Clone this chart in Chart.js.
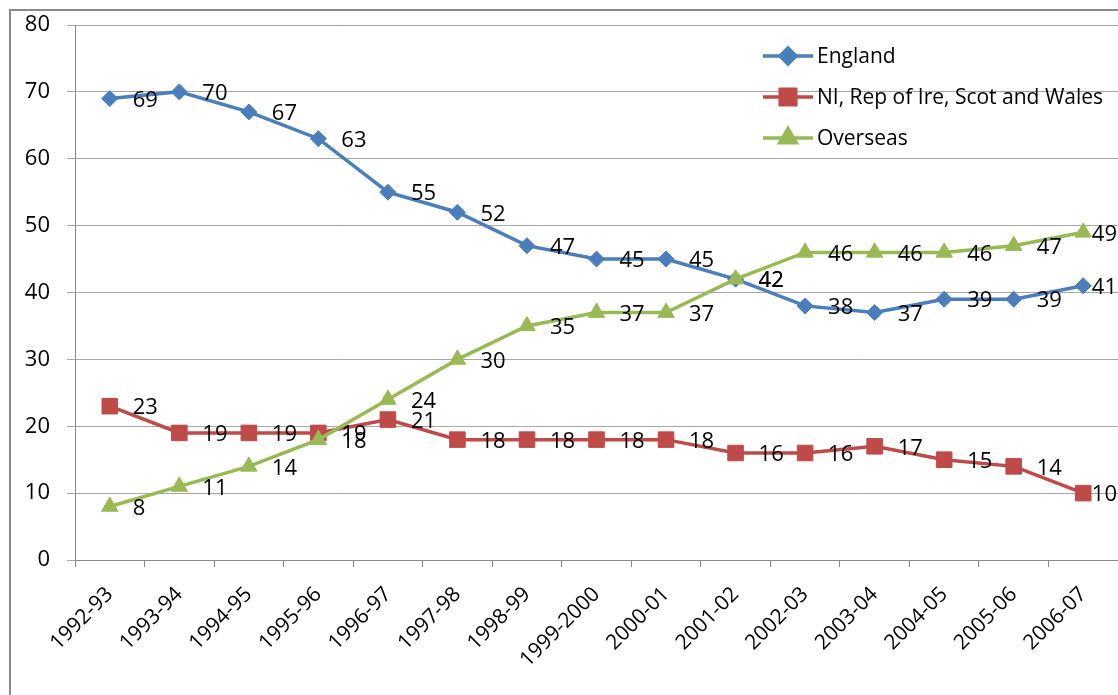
<!DOCTYPE html>
<html>
<head>
<meta charset="utf-8">
<script src="https://cdn.jsdelivr.net/npm/chart.js@4/dist/chart.umd.min.js"></script>
<style>
  html, body { margin: 0; padding: 0; background: #fff; overflow: hidden; }
  #wrap { position: relative; width: 1130px; height: 695px; }
  #frame { position: absolute; left: 9px; top: 9px; width: 1300px; height: 900px;
           border-left: 2px solid #8a8a8a; border-top: 2px solid #8a8a8a; pointer-events: none; }
</style>
</head>
<body>
<div id="wrap">
  <canvas id="c" width="1130" height="695"></canvas>
  <div id="frame"></div>
</div>
<script>
// Academic years
const categories = ['1992-93', '1993-94', '1994-95', '1995-96', '1996-97', '1997-98', '1998-99',
  '1999-2000', '2000-01', '2001-02', '2002-03', '2003-04', '2004-05', '2005-06', '2006-07'];

// Series values
const england  = [69, 70, 67, 63, 55, 52, 47, 45, 45, 42, 38, 37, 39, 39, 41];
const niIreScotWales = [23, 19, 19, 19, 21, 18, 18, 18, 18, 16, 16, 17, 15, 14, 10];
const overseas = [8, 11, 14, 18, 24, 30, 35, 37, 37, 42, 46, 46, 46, 47, 49];

// Value axis ticks
const yTicks = [0, 10, 20, 30, 40, 50, 60, 70, 80];

const FONT = 'Open Sans';

const seriesNames = ['England', 'NI, Rep of Ire, Scot and Wales', 'Overseas'];
const seriesColors = ['#4A7EBB', '#BE4B48', '#98B954'];

// Value labels to the right of every point
const valueLabels = {
  id: 'valueLabels',
  afterDatasetsDraw(chart) {
    const ctx = chart.ctx;
    ctx.save();
    ctx.font = '22px "' + FONT + '"';
    ctx.fillStyle = '#000';
    ctx.textBaseline = 'middle';
    ctx.textAlign = 'left';
    chart.data.datasets.forEach((ds, i) => {
      const meta = chart.getDatasetMeta(i);
      meta.data.forEach((pt, j) => {
        const txt = String(ds.data[j]);
        const w = ctx.measureText(txt).width;
        const x = Math.min(pt.x + 23, chart.width - 13 - w);
        ctx.fillText(txt, x, pt.y + 2);
      });
    });
    ctx.restore();
  }
};

// Legend drawn inside the plot area, top right
const insideLegend = {
  id: 'insideLegend',
  afterDatasetsDraw(chart) {
    const ctx = chart.ctx;
    const area = chart.chartArea;
    const x0 = area.left + 688;
    ctx.save();
    ctx.font = '21px "' + FONT + '"';
    ctx.textBaseline = 'middle';
    ctx.textAlign = 'left';
    chart.data.datasets.forEach((ds, i) => {
      const y = area.top + 31 + i * 41;
      ctx.strokeStyle = ds.borderColor;
      ctx.lineWidth = 3.5;
      ctx.beginPath();
      ctx.moveTo(x0, y);
      ctx.lineTo(x0 + 50, y);
      ctx.stroke();
      ctx.fillStyle = ds.pointBackgroundColor;
      ctx.strokeStyle = ds.pointBorderColor;
      Chart.helpers.drawPoint(ctx, {
        pointStyle: ds.pointStyle, radius: ds.pointRadius, rotation: 0, borderWidth: 1
      }, x0 + 25, y);
      ctx.fillStyle = '#000';
      ctx.fillText(ds.label, x0 + 54, y + 1);
    });
    ctx.restore();
  }
};

function series(i, data, style, radius) {
  return {
    label: seriesNames[i],
    data: data,
    borderColor: seriesColors[i],
    backgroundColor: seriesColors[i],
    pointBackgroundColor: seriesColors[i],
    pointBorderColor: seriesColors[i],
    borderWidth: 3.5,
    pointStyle: style,
    pointRadius: radius,
    pointHoverRadius: radius,
    pointBorderWidth: 1,
    tension: 0,
    order: 3 - i
  };
}

new Chart(document.getElementById('c'), {
  type: 'line',
  data: {
    labels: categories,
    datasets: [
      series(0, england, 'rectRot', 8),
      series(1, niIreScotWales, 'rect', 11),
      series(2, overseas, 'triangle', 9.5)
    ]
  },
  options: {
    responsive: false,
    animation: false,
    devicePixelRatio: 1,
    layout: { padding: { top: 25, right: 10, left: 0, bottom: 0 } },
    plugins: { legend: { display: false }, tooltip: { enabled: false } },
    scales: {
      x: {
        offset: true,
        grid: { display: true, drawOnChartArea: false, offset: true, tickLength: 7, color: '#8a8a8a', lineWidth: 1 },
        border: { color: '#8a8a8a', width: 1 },
        ticks: {
          autoSkip: false, minRotation: 45, maxRotation: 45, padding: 15,
          color: '#000', font: { family: FONT, size: 21 }
        },
        afterFit(s) { s.height = 135; s.paddingLeft = 0; s.paddingRight = 0; }
      },
      y: {
        min: yTicks[0],
        max: yTicks[yTicks.length - 1],
        grid: { color: '#a8a8a8', lineWidth: 1, tickLength: 8 },
        border: { color: '#8a8a8a', width: 1 },
        ticks: {
          stepSize: yTicks[1] - yTicks[0], padding: 17,
          color: '#000', font: { family: FONT, size: 22 }
        },
        afterFit(s) { s.width = 75; s.paddingTop = 0; s.paddingBottom = 0; }
      }
    }
  },
  plugins: [valueLabels, insideLegend]
});
</script>
</body>
</html>
